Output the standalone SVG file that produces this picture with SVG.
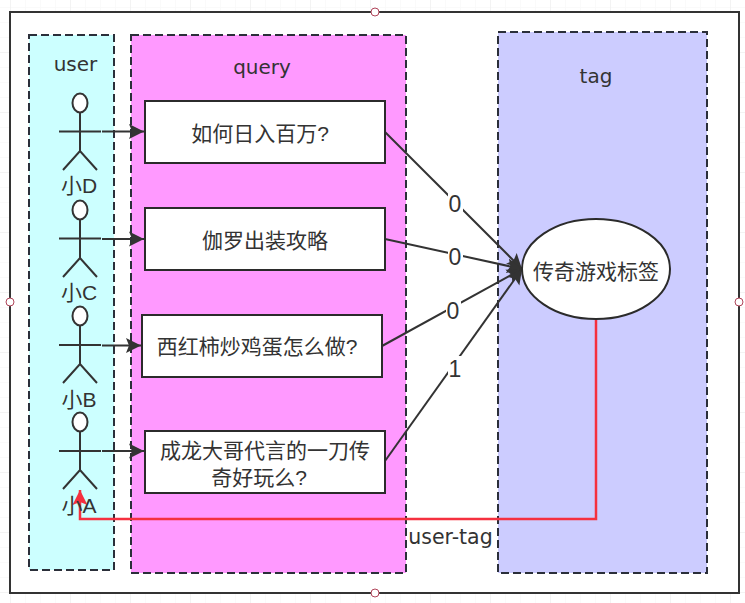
<svg xmlns="http://www.w3.org/2000/svg" width="745" height="603" viewBox="0 0 745 603">
<style>
text{font-family:"DejaVu Sans","Noto Sans CJK SC",sans-serif;font-size:20px;fill:#333;text-anchor:middle}
.cjk{font-family:"Liberation Sans","Noto Sans CJK SC",sans-serif;font-size:21px}
.num{font-family:"Liberation Sans",sans-serif;font-size:23px}
.box{fill:#fff;stroke:#2b2b2b;stroke-width:2}
.zone{stroke:#2b2f3a;stroke-width:2;stroke-dasharray:8 4}
.actor{fill:none;stroke:#333;stroke-width:2}
.head{fill:#fff;stroke:#333;stroke-width:2}
.conn{fill:none;stroke:#333;stroke-width:2}
.lab{stroke:none}
.handle{fill:#fff;stroke:#b0455a;stroke-width:1}
</style>
<defs>
<pattern id="minor" width="15" height="15" patternUnits="userSpaceOnUse" x="10" y="7"><path d="M15 0H0V15" fill="none" stroke="#f6f6f6" stroke-width="1"/></pattern>
<pattern id="major" width="60" height="60" patternUnits="userSpaceOnUse" x="10" y="52"><path d="M60 0H0V60" fill="none" stroke="#ececec" stroke-width="1"/></pattern>
<marker id="arr" markerUnits="userSpaceOnUse" markerWidth="16" markerHeight="16" refX="15" refY="8" orient="auto"><path d="M0 0.500L15 8L0 15.500L3 8Z" fill="#333"/></marker>
<marker id="arrR" markerUnits="userSpaceOnUse" markerWidth="16" markerHeight="16" refX="15" refY="8" orient="auto"><path d="M0 0.500L15 8L0 15.500L3 8Z" fill="#f5303f"/></marker>
</defs>
<rect width="745" height="603" fill="#fff"/>
<rect width="745" height="603" fill="url(#minor)"/>
<rect width="745" height="603" fill="url(#major)"/>
<g id="frame"><rect x="10" y="12" width="729" height="581" fill="#fff" stroke="#333" stroke-width="2"/></g>
<g id="user-zone"><rect class="zone" x="29" y="35" width="85" height="535" fill="#ccffff"/><text x="75.500" y="71">user</text></g>
<g id="query-zone"><rect class="zone" x="131" y="35" width="275" height="538" fill="#ff99ff"/><text x="262" y="74">query</text></g>
<g id="tag-zone"><rect class="zone" x="498" y="32" width="209" height="541" fill="#ccccff"/><text x="596" y="83">tag</text></g>
<g id="user-tag-label"><text x="450.500" y="544" style="font-size:20.500px">user-tag</text></g>
<g id="connectors">
<path class="conn" d="M102 131.500H144" marker-end="url(#arr)"/>
<path class="conn" d="M102 239H144" marker-end="url(#arr)"/>
<path class="conn" d="M102 345.500H141" marker-end="url(#arr)"/>
<path class="conn" d="M102 451H144" marker-end="url(#arr)"/>
<path class="conn" d="M385 132L522 269" marker-end="url(#arr)"/>
<path class="conn" d="M385 239L522 269" marker-end="url(#arr)"/>
<path class="conn" d="M382 346L522 269" marker-end="url(#arr)"/>
<path class="conn" d="M385 461L522 269" marker-end="url(#arr)"/>
<path fill="none" stroke="#f5303f" stroke-width="2.500" d="M596 320V519H80V490" marker-end="url(#arrR)"/>
<rect class="lab" x="448" y="191" width="15" height="24" fill="#fff"/><text class="num" x="455" y="212">0</text>
<rect class="lab" x="448" y="245" width="15" height="24" fill="#fff"/><text class="num" x="455" y="265">0</text>
<rect class="lab" x="446" y="299" width="15" height="24" fill="#fff"/><text class="num" x="453" y="319">0</text>
<rect class="lab" x="448" y="356" width="15" height="24" fill="#fff"/><text class="num" x="455" y="377">1</text>
</g>
<g id="actor-d"><path class="actor" d="M80 113V151M59 131.500H101M63 170L80 151L97 170"/><ellipse class="head" cx="80" cy="103" rx="7.500" ry="9.500"/><text class="cjk" x="79" y="193">小D</text></g>
<g id="actor-c"><path class="actor" d="M80 220V258M59 238.500H101M63 277L80 258L97 277"/><ellipse class="head" cx="80" cy="210" rx="7.500" ry="9.500"/><text class="cjk" x="79" y="300">小C</text></g>
<g id="actor-b"><path class="actor" d="M80 326V364M59 345H101M63 383L80 364L97 383"/><ellipse class="head" cx="80" cy="316" rx="7.500" ry="9.500"/><text class="cjk" x="79" y="407">小B</text></g>
<g id="actor-a"><path class="actor" d="M80 432V470M59 451H101M63 489L80 470L97 489"/><ellipse class="head" cx="80" cy="422" rx="7.500" ry="9.500"/><text class="cjk" x="79" y="513">小A</text></g>
<g id="q1"><rect class="box" x="145" y="101" width="240" height="62"/><text class="cjk" x="260" y="141">如何日入百万?</text></g>
<g id="q2"><rect class="box" x="145" y="208" width="240" height="62"/><text class="cjk" x="265" y="248">伽罗出装攻略</text></g>
<g id="q3"><rect class="box" x="142" y="315" width="240" height="62"/><text class="cjk" x="257" y="354">西红柿炒鸡蛋怎么做?</text></g>
<g id="q4"><rect class="box" x="145" y="431" width="240" height="62"/><text class="cjk" x="265" y="458">成龙大哥代言的一刀传</text><text class="cjk" x="259" y="485">奇好玩么?</text></g>
<g id="tag-node"><ellipse class="box" cx="596" cy="269" rx="74" ry="50"/><text class="cjk" x="596" y="279">传奇游戏标签</text></g>
<g id="handles"><circle class="handle" cx="375" cy="12" r="4"/><circle class="handle" cx="10" cy="302" r="4"/><circle class="handle" cx="739" cy="302" r="4"/><circle class="handle" cx="375" cy="593" r="4"/></g>
</svg>
